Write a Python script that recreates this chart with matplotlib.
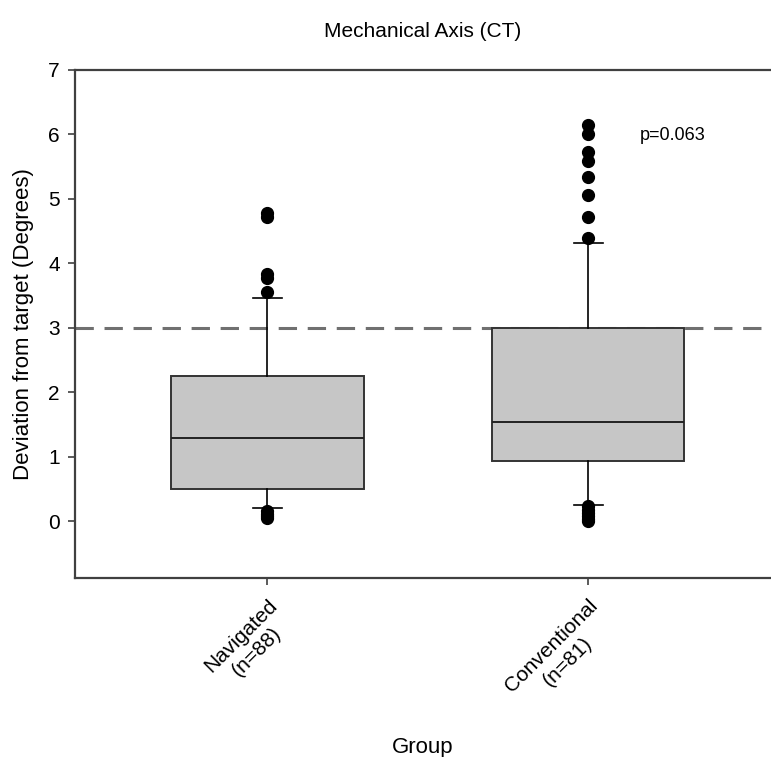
import matplotlib.pyplot as plt

plt.rcParams['font.family'] = ['Liberation Sans', 'DejaVu Sans']

# box statistics (degrees)
groups = ["Navigated\n(n=88)", "Conventional\n(n=81)"]
medians = [1.29, 1.54]
q1s = [0.50, 0.93]
q3s = [2.25, 3.00]
whislo = [0.20, 0.25]
whishi = [3.46, 4.32]
outliers_nav = [4.78, 4.72, 3.83, 3.78, 3.55, 0.16, 0.12, 0.08, 0.05]
outliers_conv = [6.15, 6.01, 5.73, 5.59, 5.34, 5.06, 4.72, 4.39,
                 0.24, 0.18, 0.13, 0.08, 0.04, 0.01]
target = 3.0
p_text = "p=0.063"

stats = []
fliers = [outliers_nav, outliers_conv]
for i in range(2):
    stats.append({"med": medians[i], "q1": q1s[i], "q3": q3s[i],
                  "whislo": whislo[i], "whishi": whishi[i],
                  "fliers": fliers[i], "label": groups[i]})

fig = plt.figure(figsize=(7.71, 7.57), dpi=100)
ax = fig.add_axes([75/771, 1 - 578/757, 1 - 75/771, (578 - 70)/757])

ax.axhline(target, color='#707070', lw=2.2, ls=(0, (6, 3.5)), zorder=1)

ax.bxp(stats, positions=[1, 2], widths=0.6, patch_artist=True,
       capwidths=0.09,
       boxprops=dict(facecolor='#c6c6c6', edgecolor='#333333', lw=1.4),
       medianprops=dict(color='#222222', lw=1.4),
       whiskerprops=dict(color='black', lw=1.2),
       capprops=dict(color='black', lw=1.2),
       flierprops=dict(marker='o', markerfacecolor='black',
                       markeredgecolor='black', markersize=8.5),
       zorder=2)

ax.text(2.16, 5.98, p_text, fontsize=13, va='center', ha='left')

ax.set_xlim(0.4, 2.57)
ax.set_ylim(-0.88, 7)
ax.set_yticks(range(0, 8))
ax.set_xticks([1, 2])
ax.set_xticklabels(groups, rotation=45, ha='right', rotation_mode='anchor',
                   multialignment='center')
ax.tick_params(axis='both', labelsize=15, direction='out', length=5,
               color='#404040', width=1.2)
ax.tick_params(axis='x', pad=8)
ax.tick_params(axis='y', pad=6)

for s in ['left', 'bottom', 'top']:
    ax.spines[s].set_color('#404040')
    ax.spines[s].set_linewidth(1.6)
ax.spines['right'].set_visible(False)

ax.set_ylabel("Deviation from target (Degrees)", fontsize=16, labelpad=10)
ax.set_xlabel("Group", fontsize=16, labelpad=18)
ax.set_title("Mechanical Axis (CT)", fontsize=15, pad=24)

fig.savefig("out.png", dpi=100)
